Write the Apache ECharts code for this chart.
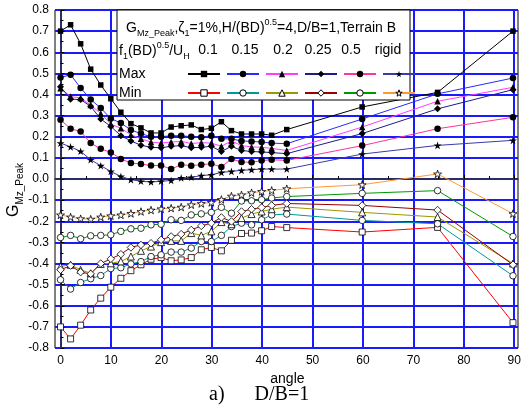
<!DOCTYPE html>
<html>
<head>
<meta charset="utf-8">
<script src="https://cdn.jsdelivr.net/npm/echarts@6/dist/echarts.min.js"></script>
<style>
html, body { margin: 0; padding: 0; background: #fff; }
#chart { width: 525px; height: 408px; }
</style>
</head>
<body>
<div id="chart"></div>
<script>
// wind angles (deg)
var angles = [0, 2, 4, 6, 8, 10, 12, 14, 16, 18, 20, 22, 24, 26, 28, 30, 32, 34, 36, 38, 40, 42, 45, 60, 75, 90];
var xTicks = [0, 10, 20, 30, 40, 50, 60, 70, 80, 90];

// peak factor, Max
var max01 = [0.70, 0.73, 0.64, 0.52, 0.445, 0.38, 0.316, 0.262, 0.242, 0.218, 0.218, 0.246, 0.252, 0.256, 0.234, 0.240, 0.271, 0.229, 0.213, 0.213, 0.213, 0.207, 0.234, 0.341, 0.41, 0.70];
var max015 = [0.48, 0.494, 0.431, 0.376, 0.336, 0.286, 0.265, 0.232, 0.215, 0.20, 0.20, 0.205, 0.205, 0.20, 0.198, 0.205, 0.19, 0.19, 0.18, 0.178, 0.175, 0.17, 0.167, 0.284, 0.403, 0.478];
var max02 = [0.43, 0.39, 0.384, 0.35, 0.31, 0.26, 0.24, 0.21, 0.19, 0.175, 0.17, 0.175, 0.178, 0.168, 0.172, 0.17, 0.155, 0.18, 0.158, 0.152, 0.15, 0.145, 0.135, 0.246, 0.368, 0.434];
var max025 = [0.437, 0.378, 0.376, 0.344, 0.284, 0.249, 0.205, 0.18, 0.16, 0.15, 0.148, 0.155, 0.158, 0.148, 0.15, 0.155, 0.13, 0.155, 0.135, 0.13, 0.128, 0.125, 0.12, 0.215, 0.332, 0.423];
var max05 = [0.28, 0.238, 0.225, 0.17, 0.143, 0.126, 0.095, 0.076, 0.071, 0.064, 0.064, 0.047, 0.068, 0.063, 0.068, 0.072, 0.057, 0.095, 0.08, 0.079, 0.087, 0.091, 0.088, 0.158, 0.238, 0.292];
var maxRigid = [0.17, 0.152, 0.131, 0.091, 0.063, 0.036, 0.012, -0.003, -0.011, -0.014, -0.011, -0.007, 0.005, 0.008, 0.016, 0.02, 0.031, 0.036, 0.041, 0.044, 0.047, 0.047, 0.047, 0.118, 0.159, 0.183];

// peak factor, Min
var min01 = [-0.70, -0.757, -0.692, -0.62, -0.564, -0.512, -0.47, -0.434, -0.406, -0.38, -0.372, -0.387, -0.383, -0.372, -0.335, -0.324, -0.34, -0.29, -0.258, -0.256, -0.245, -0.225, -0.23, -0.251, -0.229, -0.68];
var min015 = [-0.477, -0.521, -0.49, -0.472, -0.457, -0.424, -0.42, -0.402, -0.391, -0.367, -0.359, -0.346, -0.346, -0.327, -0.296, -0.296, -0.267, -0.225, -0.209, -0.217, -0.193, -0.17, -0.166, -0.196, -0.212, -0.458];
var min02 = [-0.414, -0.406, -0.43, -0.446, -0.402, -0.399, -0.39, -0.367, -0.34, -0.32, -0.299, -0.293, -0.293, -0.256, -0.267, -0.248, -0.204, -0.214, -0.185, -0.166, -0.154, -0.143, -0.133, -0.158, -0.18, -0.40];
var min025 = [-0.43, -0.41, -0.441, -0.449, -0.40, -0.378, -0.356, -0.324, -0.312, -0.304, -0.288, -0.272, -0.261, -0.241, -0.222, -0.209, -0.182, -0.201, -0.154, -0.143, -0.135, -0.125, -0.116, -0.125, -0.147, -0.406];
var min05 = [-0.277, -0.267, -0.283, -0.269, -0.267, -0.264, -0.248, -0.236, -0.233, -0.217, -0.214, -0.193, -0.196, -0.17, -0.165, -0.158, -0.134, -0.162, -0.104, -0.103, -0.098, -0.09, -0.083, -0.068, -0.055, -0.272];
var minRigid = [-0.17, -0.18, -0.188, -0.19, -0.18, -0.174, -0.17, -0.163, -0.154, -0.147, -0.141, -0.138, -0.133, -0.122, -0.116, -0.111, -0.097, -0.081, -0.075, -0.065, -0.059, -0.054, -0.046, -0.027, 0.024, -0.164];

var font = 'Liberation Sans, Arial, sans-serif';
var star = 'path://M50,0L61,35L98,35L68,57L79,91L50,70L21,91L32,57L2,35L39,35Z';

function pairs(vals) {
    var res = [];
    for (var i = 0; i < angles.length; i++) {
        res.push([angles[i], vals[i]]);
    }
    return res;
}

function mk(name, vals, color, symbol, size, open) {
    return {
        name: name,
        type: 'line',
        xAxisIndex: 0,
        yAxisIndex: 0,
        data: pairs(vals),
        symbol: symbol,
        symbolSize: size,
        symbolKeepAspect: true,
        lineStyle: { color: color, width: 1 },
        itemStyle: open ? { color: '#fff', borderColor: '#000', borderWidth: 0.8 } : { color: '#000' },
        z: 3
    };
}

var seriesList = [
    mk('Max 0.1', max01, '#000000', 'rect', 5.5, false),
    mk('Max 0.15', max015, '#2a2aff', 'circle', 6.5, false),
    mk('Max 0.2', max02, '#ff3cff', 'triangle', 6.5, false),
    mk('Max 0.25', max025, '#1c1c8a', 'diamond', 7, false),
    mk('Max 0.5', max05, '#ff3399', 'circle', 6.5, false),
    mk('Max rigid', maxRigid, '#3a3aaa', star, 8, false),
    mk('Min 0.1', min01, '#ff0000', 'rect', 6, true),
    mk('Min 0.15', min015, '#009999', 'circle', 6.5, true),
    mk('Min 0.2', min02, '#999900', 'triangle', 7, true),
    mk('Min 0.25', min025, '#990000', 'diamond', 7.5, true),
    mk('Min 0.5', min05, '#009900', 'circle', 6.5, true),
    mk('Min rigid', minRigid, '#ff9933', star, 8, true)
];

var chart = echarts.init(document.getElementById('chart'));

var richBox = {
    m: { fontSize: 14, fontFamily: font, lineHeight: 20, color: '#000' },
    sb: { fontSize: 9, fontFamily: font, lineHeight: 9, verticalAlign: 'bottom', color: '#000' },
    sp: { fontSize: 9, fontFamily: font, lineHeight: 9, verticalAlign: 'top', color: '#000' }
};

function txt(x, y, text, size, align) {
    return {
        type: 'text', x: x, y: y, z: 20,
        style: { text: text, font: size + 'px ' + font, fill: '#000', align: align || 'left', verticalAlign: 'middle' }
    };
}

function legendRow(names, top, open) {
    return {
        data: names,
        left: 187, top: top, padding: 0, itemWidth: 32, itemHeight: 8, itemGap: 5,
        itemStyle: open ? { color: '#fff', borderColor: '#000', borderWidth: 1 } : { color: '#000', borderWidth: 0 },
        formatter: function () { return ''; }, selectedMode: false, z: 20
    };
}

var option = {
    animation: false,
    backgroundColor: '#fff',
    grid: [
        { left: 55, right: 7, top: 10, bottom: 60, show: true, borderColor: '#000', borderWidth: 1, backgroundColor: 'transparent' },
        { left: 60.6, right: 10.8, top: 10, bottom: 60 }
    ],
    xAxis: [
        {
            gridIndex: 0, type: 'value', min: -1.1, max: 91,
            axisLine: { show: true, lineStyle: { color: '#333', width: 1.5 } },
            axisTick: { show: false }, axisLabel: { show: false }, splitLine: { show: false }
        },
        {
            gridIndex: 1, type: 'value', min: xTicks[0], max: xTicks[xTicks.length - 1], interval: 10,
            axisLine: { show: false },
            axisTick: { show: true, inside: true, length: 4, lineStyle: { color: '#000' } },
            minorTick: { show: true, splitNumber: 2, length: 3, lineStyle: { color: '#000' } },
            axisLabel: { color: '#000', fontSize: 12, fontFamily: font, margin: 7 },
            splitLine: { show: true, lineStyle: { color: '#1a1aff', width: 2 } },
            name: 'angle', nameLocation: 'middle', nameGap: 15,
            nameTextStyle: { color: '#000', fontSize: 14, fontFamily: font }
        }
    ],
    yAxis: [
        {
            gridIndex: 0, type: 'value', min: -0.8, max: 0.8, interval: 0.1,
            axisLine: { show: true, lineStyle: { color: '#333', width: 1.5 } },
            axisTick: { show: true, inside: true, length: 4, lineStyle: { color: '#000' } },
            minorTick: { show: true, splitNumber: 2, length: 3, lineStyle: { color: '#000' } },
            axisLabel: { color: '#000', fontSize: 12, fontFamily: font, margin: 6, formatter: function (v) { return v.toFixed(1); } },
            splitLine: { show: true, lineStyle: { color: '#1a1aff', width: 2 } }
        },
        {
            gridIndex: 1, type: 'value', min: -0.8, max: 0.8, show: false
        }
    ],
    legend: [
        legendRow(['Max 0.1', 'Max 0.15', 'Max 0.2', 'Max 0.25', 'Max 0.5', 'Max rigid'], 70, false),
        legendRow(['Min 0.1', 'Min 0.15', 'Min 0.2', 'Min 0.25', 'Min 0.5', 'Min rigid'], 89, true)
    ],
    graphic: [
        { type: 'rect', z: 5, shape: { x: 117, y: 10, width: 293, height: 90 }, style: { fill: '#fff', stroke: '#000', lineWidth: 1 } },
        {
            type: 'text', x: 126, y: 28, z: 20,
            style: { text: '{m|G}{sb|Mz_Peak}{m|,ζ}{sb|1}{m|=1%,H/(BD)}{sp|0.5}{m|=4,D/B=1,Terrain B}', rich: richBox, verticalAlign: 'middle' }
        },
        {
            type: 'text', x: 119, y: 51, z: 20,
            style: { text: '{m|f}{sb|1}{m|(BD)}{sp|0.5}{m|/U}{sb|H}', rich: richBox, verticalAlign: 'middle' }
        },
        txt(208, 50, '0.1', 14, 'center'),
        txt(245, 50, '0.15', 14, 'center'),
        txt(283, 50, '0.2', 14, 'center'),
        txt(318, 50, '0.25', 14, 'center'),
        txt(351, 50, '0.5', 14, 'center'),
        txt(388, 50, 'rigid', 14, 'center'),
        txt(119, 74, 'Max', 14),
        txt(119, 93, 'Min', 14),
        {
            type: 'text', x: 14, y: 190, rotation: Math.PI / 2, z: 20,
            style: {
                text: '{g|G}{s|Mz_Peak}',
                align: 'center', verticalAlign: 'middle',
                rich: {
                    g: { fontSize: 16, fontFamily: font, lineHeight: 22, color: '#000' },
                    s: { fontSize: 10, fontFamily: font, lineHeight: 11, verticalAlign: 'bottom', color: '#000' }
                }
            }
        },
        {
            type: 'text', x: 209, y: 395, z: 20,
            style: { text: 'a)      D/B=1', font: '20px Liberation Serif, Times New Roman, serif', fill: '#000', verticalAlign: 'middle' }
        }
    ],
    series: seriesList
};

chart.setOption(option);
</script>
</body>
</html>
